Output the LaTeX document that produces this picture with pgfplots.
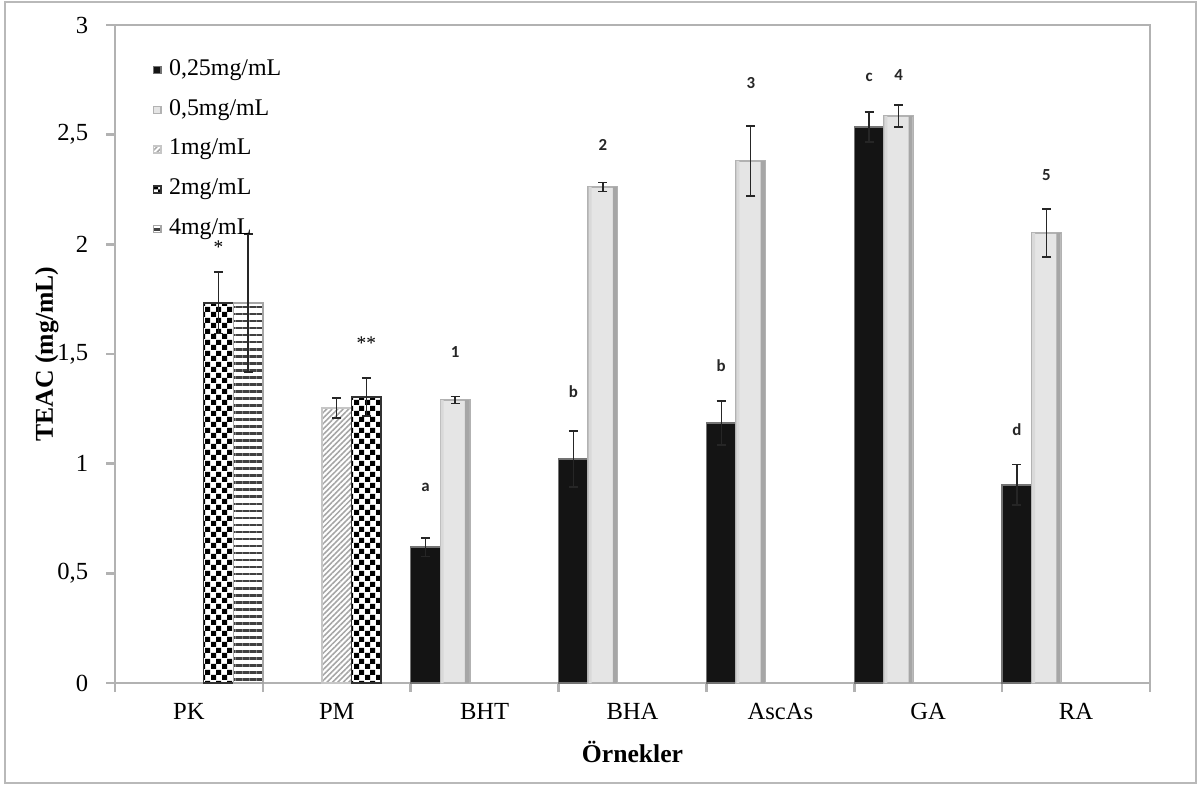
\documentclass[border=0pt]{standalone}
\usepackage{pgfplots}
\pgfplotsset{compat=1.18}
\usepackage{fontspec}
\setmainfont{Liberation Serif}
\newfontfamily\calibri{Carlito}
\usetikzlibrary{patterns,patterns.meta}
\pgfdeclarepatternformonly{mychecker}{\pgfqpoint{0pt}{0pt}}{\pgfqpoint{3pt}{3pt}}{\pgfqpoint{3pt}{3pt}}{%
  \pgfpathrectangle{\pgfqpoint{0pt}{0pt}}{\pgfqpoint{1.5pt}{1.5pt}}%
  \pgfpathrectangle{\pgfqpoint{1.5pt}{1.5pt}}{\pgfqpoint{1.5pt}{1.5pt}}%
  \pgfusepath{fill}}
\begin{document}
\begin{tikzpicture}
\path[use as bounding box] (0,0) rectangle (12.02cm,7.85cm);
\draw[gray!55, line width=0.15mm] (0.05cm,0.02cm) rectangle (11.96cm,7.83cm);
\begin{axis}[
  at={(1.15cm,1.02cm)}, anchor=south west,
  scale only axis, width=10.35cm, height=6.58cm,
  xmin=-0.5, xmax=6.5, ymin=0, ymax=3,
  ytick={0,0.5,1,1.5,2,2.5,3},
  xtick={0,1,2,3,4,5,6},
  xticklabels={PK,PM,BHT,BHA,AscAs,GA,RA},
  minor xtick={-0.5,0.5,1.5,2.5,3.5,4.5,5.5,6.5},
  axis line style={gray!60, line width=0.25mm},
  tick style={gray!60, line width=0.25mm},
  major tick length=0.85mm, minor tick length=0.9mm,
  major x tick style={draw=none},
  tick align=outside, tick pos=left,
  /pgf/number format/.cd, use comma, assume math mode=true, /pgfplots/.cd,
  ticklabel style={font=\fontsize{7}{8}\selectfont},
  yticklabel style={xshift=-0.6mm},
  xticklabel style={yshift=0.1mm},
  ylabel={\textbf{TEAC (mg/mL)}},
  xlabel={\textbf{Örnekler}},
  every axis y label/.style={at={(axis description cs:-0.066,0.5)}, rotate=90, anchor=center, font=\fontsize{7.3}{8}\selectfont},
  every axis x label/.style={at={(axis description cs:0.5,-0.105)}, anchor=center, font=\fontsize{7.3}{8}\selectfont},
  legend style={draw=none, fill=none, font=\fontsize{6.8}{8}\selectfont, at={(axis description cs:0.036,0.955)}, anchor=north west, row sep=2.9pt, inner sep=0pt, nodes={inner sep=1.2pt}},
  legend cell align=left,
  legend image code/.code={\draw[#1] (0mm,-0.35mm) rectangle (0.75mm,0.35mm);},
]
% 0.25 mg/mL
\addplot[ybar, bar width=0.2, bar shift=-0.4, draw=black!55, fill=black!92]
  coordinates {(2,0.620) (3,1.021) (4,1.186) (5,2.535) (6,0.903)};
\addlegendentry{\hspace{0.3mm}0,25mg/mL}
% 0.5 mg/mL
\addplot[ybar, bar width=0.2, bar shift=-0.2, draw=gray!60, fill=gray!20]
  coordinates {(2,1.290) (3,2.262) (4,2.380) (5,2.585) (6,2.052)};
\addlegendentry{\hspace{0.3mm}0,5mg/mL}
% 1 mg/mL
\addplot[ybar, bar width=0.2, bar shift=0, draw=gray!45, pattern={Lines[angle=45,distance=1.1pt,line width=0.45pt]}, pattern color=gray!70]
  coordinates {(1,1.254)};
\addlegendentry{\hspace{0.3mm}1mg/mL}
% 2 mg/mL
\addplot[ybar, bar width=0.2, bar shift=0.2, draw=black!80, pattern=mychecker, pattern color=black]
  coordinates {(0,1.733) (1,1.304)};
\addlegendentry{\hspace{0.3mm}2mg/mL}
% 4 mg/mL
\addplot[ybar, bar width=0.2, bar shift=0.4, draw=gray!70, pattern={Lines[angle=0,distance=2pt,line width=0.75pt]}, pattern color=black!75]
  coordinates {(0,1.733)};
\addlegendentry{\hspace{0.3mm}4mg/mL}
% shaded right edge of the 0,5 mg/mL bars (3-D look)
\addplot[ybar, bar width=0.028, bar shift=-0.119, draw=none, fill=gray!70, forget plot]
  coordinates {(2,1.290) (3,2.262) (4,2.380) (5,2.585) (6,2.052)};
\addplot[ybar, bar width=0.02, bar shift=-0.287, draw=none, fill=gray!30, forget plot]
  coordinates {(2,1.290) (3,2.262) (4,2.380) (5,2.585) (6,2.052)};
% error bars (at bar centres)
\pgfplotsset{errstyle/.style={black!85, line width=0.4pt, mark=none, draw opacity=0, forget plot,
  error bars/.cd, y dir=both, y explicit, error mark=|,
  error bar style={black!85, draw opacity=1, line width=0.4pt},
  error mark options={black!85, draw opacity=1, line width=0.4pt, mark size=0.45mm}}}
\addplot[errstyle]
  coordinates {(1.6,0.620) +- (0,0.042) (2.6,1.021) +- (0,0.128) (3.6,1.186) +- (0,0.100) (4.6,2.535) +- (0,0.068) (5.6,0.903) +- (0,0.092)};
\addplot[errstyle]
  coordinates {(1.8,1.290) +- (0,0.016) (2.8,2.262) +- (0,0.020) (3.8,2.380) +- (0,0.160) (4.8,2.585) +- (0,0.050) (5.8,2.052) +- (0,0.110)};
\addplot[errstyle]
  coordinates {(1,1.254) +- (0,0.045)};
\addplot[errstyle]
  coordinates {(0.2,1.733) +- (0,0.140) (1.2,1.304) +- (0,0.087)};
\addplot[errstyle]
  coordinates {(0.4,1.733) +- (0,0.315)};
% significance labels
\tikzset{lbl/.style={font=\calibri\bfseries\fontsize{4.8}{5}\selectfont, text=black!85, inner sep=0pt}}
\node[font=\fontsize{5.5}{6}\selectfont, inner sep=0pt] at (axis cs:0.2,1.988) {*};
\node[font=\fontsize{5.5}{6}\selectfont, inner sep=0pt] at (axis cs:1.2,1.550) {**};
\node[lbl] at (axis cs:1.6,0.894) {a};
\node[lbl] at (axis cs:1.8,1.509) {1};
\node[lbl] at (axis cs:2.6,1.327) {b};
\node[lbl] at (axis cs:2.8,2.453) {2};
\node[lbl] at (axis cs:3.6,1.446) {b};
\node[lbl] at (axis cs:3.8,2.736) {3};
\node[lbl] at (axis cs:4.6,2.759) {c};
\node[lbl] at (axis cs:4.8,2.772) {4};
\node[lbl] at (axis cs:5.6,1.154) {d};
\node[lbl] at (axis cs:5.8,2.316) {5};
\end{axis}
% top and right plot-area border
\draw[gray!60, line width=0.25mm] (1.15cm,7.60cm) -- (11.50cm,7.60cm) -- (11.50cm,1.02cm);
\end{tikzpicture}
\end{document}
